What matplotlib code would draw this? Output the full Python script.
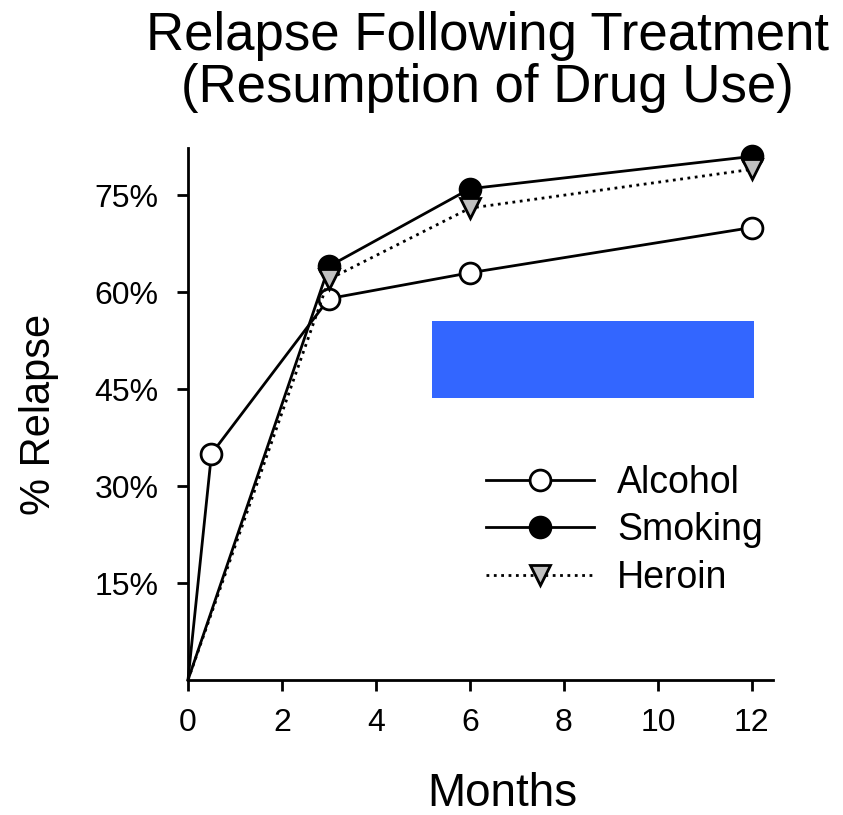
"""
Relapse following treatment: alcohol, smoking and heroin.
"""

import matplotlib.pyplot as plt
from matplotlib.patches import Rectangle


# Months after treatment and % relapsed
ALCOHOL_MONTHS = [0, 0.5, 3, 6, 12]
ALCOHOL_PCT = [0, 35, 59, 63, 70]

SMOKING_MONTHS = [0, 3, 6, 12]
SMOKING_PCT = [0, 64, 76, 81]

HEROIN_MONTHS = [0, 3, 6, 12]
HEROIN_PCT = [0, 62, 73, 79]

X_TICKS = [0, 2, 4, 6, 8, 10, 12]
Y_TICKS = [15, 30, 45, 60, 75]

# blue box drawn over the plot (data coords)
BOX_X = (5.2, 12.05)
BOX_Y = (43.6, 55.5)


def main():
    plt.rcParams['font.family'] = ['Liberation Sans', 'DejaVu Sans']

    fig = plt.figure(figsize=(8.43, 8.15), dpi=100)
    ax = fig.add_axes([0.223, 0.1656, 0.694, 0.6528])

    lw = 2.0
    # no marker at the origin, lines just start there
    ax.plot(ALCOHOL_MONTHS, ALCOHOL_PCT, color='black', lw=lw,
            marker='o', markersize=15, markerfacecolor='white',
            markeredgecolor='black', markeredgewidth=2, label='Alcohol',
            markevery=slice(1, None), clip_on=False, zorder=3)
    ax.plot(SMOKING_MONTHS, SMOKING_PCT, color='black', lw=lw,
            marker='o', markersize=15, markerfacecolor='black',
            markeredgecolor='black', markeredgewidth=2, label='Smoking',
            markevery=slice(1, None), clip_on=False, zorder=3)
    ax.plot(HEROIN_MONTHS, HEROIN_PCT, color='black', lw=lw, ls=':',
            marker='v', markersize=15, markerfacecolor='#c0c0c0',
            markeredgecolor='black', markeredgewidth=2, label='Heroin',
            markevery=slice(1, None), clip_on=False, zorder=3)

    ax.add_patch(Rectangle((BOX_X[0], BOX_Y[0]), BOX_X[1] - BOX_X[0],
                           BOX_Y[1] - BOX_Y[0], facecolor='#3366ff',
                           edgecolor='none', zorder=4))

    ax.set_xlim(0, 12.45)
    ax.set_ylim(0, 82.3)
    ax.set_xticks(X_TICKS)
    ax.set_yticks(Y_TICKS)
    ax.set_yticklabels([f"{v}%" for v in Y_TICKS])

    for side in ('top', 'right'):
        ax.spines[side].set_visible(False)
    for side in ('left', 'bottom'):
        ax.spines[side].set_linewidth(2)

    ax.tick_params(direction='out', length=8, width=2, labelsize=23)
    ax.tick_params(axis='x', pad=12)
    ax.tick_params(axis='y', pad=13)

    ax.set_xlabel('Months', fontsize=33)
    ax.xaxis.set_label_coords(0.537, -0.173)
    ax.set_ylabel('% Relapse', fontsize=30, labelpad=26)

    fig.text(0.578, 0.986, 'Relapse Following Treatment\n'
             '(Resumption of Drug Use)', ha='center', va='top',
             fontsize=38, linespacing=1.05)

    ax.legend(loc='lower right', bbox_to_anchor=(1.04, 0.095),
              frameon=False, fontsize=27, handlelength=2.9,
              handletextpad=0.6, labelspacing=0.3, markerscale=1.0)

    plt.savefig('out.png')


if __name__ == "__main__":
    main()
